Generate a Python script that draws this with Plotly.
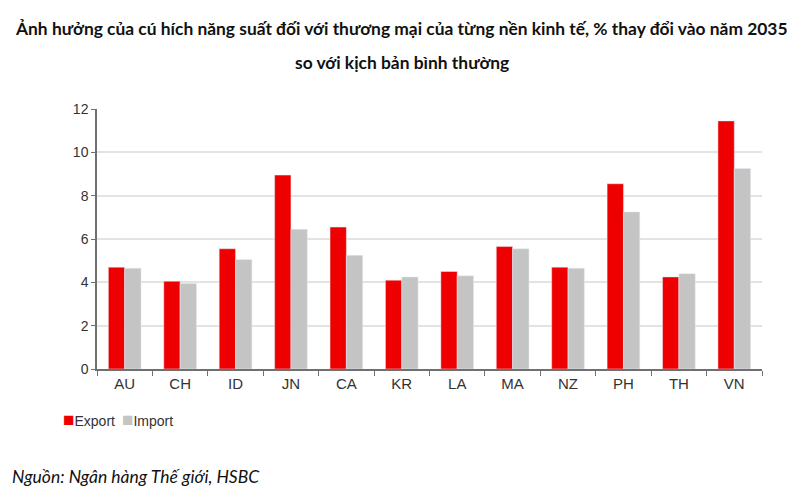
import plotly.graph_objects as go

countries = ["AU", "CH", "ID", "JN", "CA", "KR", "LA", "MA", "NZ", "PH", "TH", "VN"]
export_vals = [4.7, 4.05, 5.55, 8.95, 6.55, 4.1, 4.5, 5.65, 4.7, 8.55, 4.25, 11.45]
import_vals = [4.65, 3.95, 5.05, 6.45, 5.25, 4.25, 4.3, 5.55, 4.65, 7.25, 4.4, 9.25]

title_line1 = "Ảnh hưởng của cú hích năng suất đối với thương mại của từng nền kinh tế, % thay đổi vào năm 2035"
title_line2 = "so với kịch bản bình thường"
source_note = "Nguồn: Ngân hàng Thế giới, HSBC"

red = "#EE0000"
grey = "#C4C4C4"
sans = "Liberation Sans, Arial, sans-serif"

fig = go.Figure()
fig.add_trace(go.Bar(x=countries, y=export_vals, name="Export", marker_color=red))
fig.add_trace(go.Bar(x=countries, y=import_vals, name="Import", marker_color=grey))

# page body has an 8px margin, so the plot box is shifted by that much
fig.update_layout(
    width=800,
    height=500,
    margin=dict(l=89, r=46, t=101, b=139),
    paper_bgcolor="white",
    plot_bgcolor="white",
    barmode="group",
    bargap=0.41,
    bargroupgap=0,
    font=dict(family=sans, size=14, color="#333333"),
    showlegend=False,
)

fig.update_xaxes(
    showline=True, linecolor="#707070", linewidth=1.5,
    ticks="outside", tickson="boundaries", ticklen=5, tickcolor="#707070",
    showgrid=False, tickfont=dict(size=15),
)
fig.update_yaxes(
    range=[0, 12], dtick=2,
    showline=True, linecolor="#707070", linewidth=1.5,
    ticks="outside", ticklen=4, tickcolor="#707070",
    showgrid=True, gridcolor="#E3E3E3", gridwidth=1.5,
    zeroline=False, tickfont=dict(size=14),
)

# title, two lines
fig.add_annotation(text="<b>" + title_line1 + "</b>", xref="paper", yref="paper",
                   x=0.5, y=1, yanchor="middle", xshift=-28, yshift=81, showarrow=False,
                   font=dict(family="Lato, sans-serif", size=17.4, color="#111111"))
fig.add_annotation(text="<b>" + title_line2 + "</b>", xref="paper", yref="paper",
                   x=0.5, y=1, yanchor="middle", xshift=-28, yshift=47, showarrow=False,
                   font=dict(family="Lato, sans-serif", size=17.4, color="#111111"))

# legend below the axis
legend_items = [("Export", red, -36), ("Import", grey, 23)]
for name, color, shift in legend_items:
    fig.add_annotation(text=f"<span style='color:{color};font-size:19px'>■</span>" + name,
                       xref="paper", yref="paper", x=0, y=0, xanchor="left", yanchor="middle",
                       xshift=shift, yshift=-50, showarrow=False,
                       font=dict(family=sans, size=14, color="#333333"))

fig.add_annotation(text="<i>" + source_note + "</i>", xref="paper", yref="paper",
                   x=0, y=0, xanchor="left", yanchor="middle", xshift=-87, yshift=-107,
                   showarrow=False,
                   font=dict(family="Lato, sans-serif", size=17.5, color="#111111"))

fig.write_html("out.html")
